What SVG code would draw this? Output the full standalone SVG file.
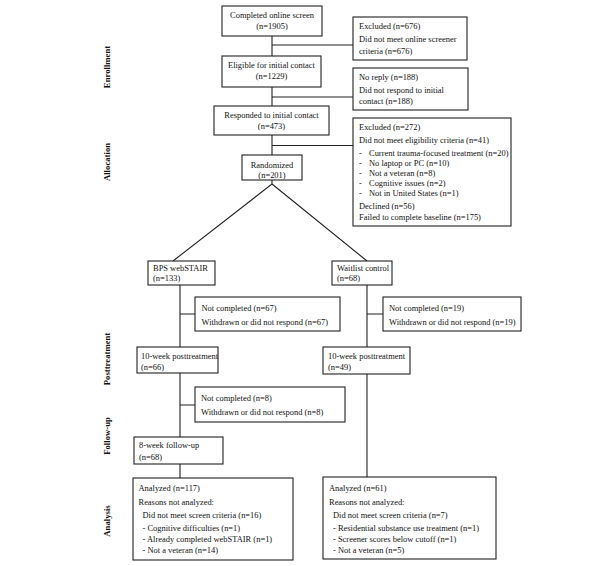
<svg xmlns="http://www.w3.org/2000/svg" width="611" height="566" viewBox="0 0 611 566">
<style>
text{font-family:"Liberation Serif","Times New Roman",serif;font-size:8.45px;fill:#111}
.c{text-anchor:middle}
.lab{font-weight:bold;text-anchor:middle;font-size:8.7px}
rect{fill:#fff;stroke:#222;stroke-width:1.1}
.ln{stroke:#222;stroke-width:1.1;fill:none}
</style>
<rect x="0" y="0" width="611" height="566" style="stroke:none;fill:#fff"/>
<g id="phase-labels">
<text class="lab" transform="translate(110,67) rotate(-90)">Enrollment</text>
<text class="lab" transform="translate(110,162) rotate(-90)">Allocation</text>
<text class="lab" transform="translate(110,359) rotate(-90)">Posttreatment</text>
<text class="lab" transform="translate(110,436) rotate(-90)">Follow-up</text>
<text class="lab" transform="translate(110,521) rotate(-90)">Analysis</text>
</g>
<g id="connectors">
<path class="ln" d="M272,36V56M272,45H353M272,87V106M272,97H353M272,135V155M272,145.5H353"/>
<path class="ln" d="M272,180V184L173,261M272,184L367,261"/>
<path class="ln" d="M180,285V347M180,314H195M180,373V437M180,405H195M180,464V478"/>
<path class="ln" d="M367,285V347M367,314H383M367,374V477"/>
</g>
<g id="n-screen"><rect x="222" y="6" width="100" height="30"/><text class="c" x="272" y="18">Completed online screen</text><text class="c" x="272" y="28.5">(n=1905)</text></g>
<g id="n-excl676"><rect x="353" y="17" width="114" height="43"/><text x="359" y="29">Excluded (n=676)</text><text x="359" y="42">Did not meet online screener</text><text x="359" y="54">criteria (n=676)</text></g>
<g id="n-eligible"><rect x="222" y="56" width="99" height="31"/><text class="c" x="271.5" y="68">Eligible for initial contact</text><text class="c" x="271.5" y="78.5">(n=1229)</text></g>
<g id="n-noreply"><rect x="353" y="68" width="115" height="42"/><text x="359" y="79.5">No reply (n=188)</text><text x="359" y="92.5">Did not respond to initial</text><text x="359" y="104">contact (n=188)</text></g>
<g id="n-responded"><rect x="214" y="106" width="115" height="29"/><text class="c" x="271.5" y="118">Responded to initial contact</text><text class="c" x="271.5" y="129">(n=473)</text></g>
<g id="n-excl272"><rect x="353" y="118" width="158" height="108"/>
<text x="359" y="130">Excluded (n=272)</text>
<text x="359" y="143">Did not meet eligibility criteria (n=41)</text>
<text x="359" y="155.5">-</text><text x="369" y="155.5">Current trauma-focused treatment (n=20)</text>
<text x="359" y="165.8">-</text><text x="369" y="165.8">No laptop or PC (n=10)</text>
<text x="359" y="176">-</text><text x="369" y="176">Not a veteran (n=8)</text>
<text x="359" y="186">-</text><text x="369" y="186">Cognitive issues (n=2)</text>
<text x="359" y="196">-</text><text x="369" y="196">Not in United States (n=1)</text>
<text x="359" y="209">Declined (n=56)</text>
<text x="359" y="220">Failed to complete baseline (n=175)</text>
</g>
<g id="n-random"><rect x="242" y="155" width="60" height="25"/><text class="c" x="272" y="168">Randomized</text><text class="c" x="272" y="178">(n=201)</text></g>
<g id="n-bps"><rect x="148" y="261" width="67" height="24"/><text x="153" y="270.5">BPS webSTAIR</text><text x="153" y="280.5">(n=133)</text></g>
<g id="n-wait"><rect x="332" y="261" width="60" height="24"/><text x="337" y="270.5">Waitlist control</text><text x="337" y="280.5">(n=68)</text></g>
<g id="n-nc67"><rect x="195" y="297" width="145" height="34"/><text x="201.5" y="311">Not completed (n=67)</text><text x="201.5" y="324.5">Withdrawn or did not respond (n=67)</text></g>
<g id="n-nc19"><rect x="383" y="297" width="138" height="34"/><text x="389" y="311">Not completed (n=19)</text><text x="389" y="324.5">Withdrawn or did not respond (n=19)</text></g>
<g id="n-post-l"><rect x="137" y="347" width="81" height="26"/><text x="141" y="358.5">10-week posttreatment</text><text x="141" y="369.5">(n=66)</text></g>
<g id="n-post-r"><rect x="323" y="347" width="87" height="27"/><text x="328" y="358.5">10-week posttreatment</text><text x="328" y="369.5">(n=49)</text></g>
<g id="n-nc8"><rect x="195" y="387" width="150" height="35"/><text x="201" y="401">Not completed (n=8)</text><text x="201" y="415">Withdrawn or did not respond (n=8)</text></g>
<g id="n-fu"><rect x="134" y="437" width="89" height="27"/><text x="139" y="448">8-week follow-up</text><text x="139" y="459.5">(n=68)</text></g>
<g id="n-an-l"><rect x="133" y="478" width="160" height="82"/>
<text x="138.5" y="491">Analyzed (n=117)</text>
<text x="138.5" y="504.5">Reasons not analyzed:</text>
<text x="142.5" y="518">Did not meet screen criteria (n=16)</text>
<text x="142.5" y="531">- Cognitive difficulties (n=1)</text>
<text x="142.5" y="542">- Already completed webSTAIR (n=1)</text>
<text x="142.5" y="552.5">- Not a veteran (n=14)</text>
</g>
<g id="n-an-r"><rect x="323" y="477" width="173" height="82"/>
<text x="329" y="491">Analyzed (n=61)</text>
<text x="329" y="504.5">Reasons not analyzed:</text>
<text x="333" y="518">Did not meet screen criteria (n=7)</text>
<text x="333" y="531">- Residential substance use treatment (n=1)</text>
<text x="333" y="542">- Screener scores below cutoff (n=1)</text>
<text x="333" y="552.5">- Not a veteran (n=5)</text>
</g>
</svg>
